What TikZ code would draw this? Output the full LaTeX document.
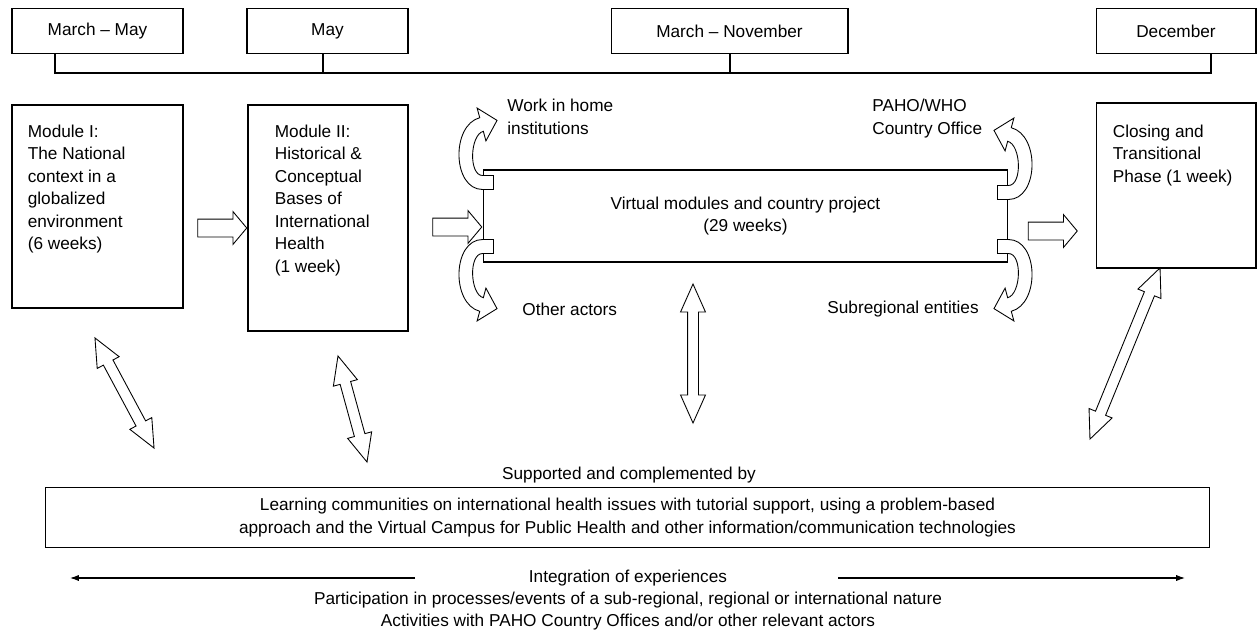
\documentclass[tikz,border=0pt]{standalone}
\usepackage{fontspec}
\setmainfont{Liberation Sans}
\usetikzlibrary{positioning,shapes.arrows,arrows.meta}

\tikzset{
  datebox/.style={draw, line width=0.6pt, minimum height=0.9cm, inner sep=0pt},
  modbox/.style={draw, line width=0.6pt, inner sep=0pt},
  modtext/.style={anchor=north west, align=left, inner sep=0pt},
  blockarrow/.style={single arrow, draw, line width=0.5pt, fill=white,
    inner xsep=0pt, inner ysep=0.17cm, single arrow head extend=0.15cm,
    single arrow tip angle=100, minimum height=0.98cm},
  dblarrow/.style={double arrow, draw, line width=0.5pt, fill=white,
    inner xsep=0pt, inner ysep=0.1cm, double arrow head extend=0.14cm,
    double arrow tip angle=48},
  pics/bendarrow/.style={code={
    \draw[line width=0.5pt, fill=white] (11,7) -- (0,7)
      .. controls (-30,7) and (-31.8,-57) .. (-2.8,-64.8) -- (-5.4,-74.4)
      -- (14.5,-62.1) -- (3.4,-41.6) -- (0.8,-51.2)
      .. controls (-12.7,-47.6) and (-14,-7) .. (0,-7) -- (11,-7) -- cycle;
  }}
}

\begin{document}
\begin{tikzpicture}[x=0.02cm, y=-0.02cm,
    every node/.style={font=\fontsize{9.8pt}{12.8pt}\selectfont}]
  \useasboundingbox (0,0) rectangle (1257,639);

  % time line
  \node[datebox, minimum width=3.42cm] (d1) at (97.5,31) {March – May};
  \node[datebox, minimum width=3.22cm] (d2) at (327.5,31) {May};
  \node[datebox, minimum width=4.74cm] (d3) at (729.5,31) {March – November};
  \node[datebox, minimum width=3.2cm] (d4) at (1176,31) {December};
  \coordinate (t1) at (55,73);
  \coordinate (t2) at (323,73);
  \coordinate (t3) at (730,73);
  \coordinate (t4) at (1211,73);
  \draw[line width=0.6pt] (d1.south -| t1) -- (t1) -- (t4) -- (d4.south -| t4);
  \draw[line width=0.6pt] (d2.south -| t2) -- (t2);
  \draw[line width=0.6pt] (d3.south -| t3) -- (t3);

  % modules
  \node[modbox, minimum width=3.42cm, minimum height=4.06cm] (m1) at (97.5,206.5) {};
  \node[modtext] (m1t) at ([shift={(16,20)}]m1.north west)
    {Module I:\\The National\\context in a\\globalized\\environment\\(6 weeks)};
  \node[modbox, minimum width=3.2cm, minimum height=4.52cm] (m2) at (328,218) {};
  \node[modtext] (m2t) at ([shift={(27,20)}]m2.north west)
    {Module II:\\Historical \&\\Conceptual\\Bases of\\International\\Health\\(1 week)};
  \node[modbox, align=center, minimum width=10.5cm, minimum height=1.84cm] (virt)
    at (745.5,216) {Virtual modules and country project\\(29 weeks)};
  \node[modbox, minimum width=3.2cm, minimum height=3.3cm] (clos) at (1176,185.5) {};
  \node[modtext] (clost) at ([shift={(17,22)}]clos.north west)
    {Closing and\\Transitional\\Phase (1 week)};

  % block arrows
  \node[blockarrow] (b1) at (218.5,228) {};
  \node[blockarrow] (b2) at (453.5,227) {};
  \node[blockarrow] (b3) at (1049,231) {};

  % bent arrows round the virtual modules
  \pic at ([shift={(0,13)}]virt.north west) {bendarrow};
  \pic[yscale=-1] at ([shift={(0,-16)}]virt.south west) {bendarrow};
  \pic[xscale=-1] at ([shift={(0,23)}]virt.north east) {bendarrow};
  \pic[xscale=-1, yscale=-1] at ([shift={(0,-16)}]virt.south east) {bendarrow};
  \node[modtext] (home) at (507,99) {Work in home\\institutions};
  \node[anchor=west, inner sep=0pt] (other) at (522,309) {Other actors};
  \node[modtext] (paho) at (872,99) {PAHO/WHO\\Country Office};
  \node[anchor=east, inner sep=0pt] (subr) at (979,309) {Subregional entities};

  % support
  \coordinate (a1s) at (95,338);   \coordinate (a1e) at (154,448);
  \coordinate (a2s) at (338,356);  \coordinate (a2e) at (367,462);
  \coordinate (a3s) at (693,284);  \coordinate (a3e) at (693,423);
  \coordinate (a4s) at (1160,268); \coordinate (a4e) at (1090,439);
  \path (a1s) -- node[dblarrow, sloped, minimum height=2.5cm] (a1) {} (a1e);
  \path (a2s) -- node[dblarrow, sloped, minimum height=2.2cm] (a2) {} (a2e);
  \path (a3s) -- node[dblarrow, sloped, minimum height=2.78cm] (a3) {} (a3e);
  \path (a4s) -- node[dblarrow, sloped, minimum height=3.7cm] (a4) {} (a4e);
  \node (supp) at (629,475) {Supported and complemented by};
  \node[modbox, align=center, minimum width=23.3cm, minimum height=1.2cm] (learn)
    at (627.5,517.5) {Learning communities on international health issues with tutorial support, using a problem-based\\approach and the Virtual Campus for Public Health and other information/communication technologies};

  % integration
  \node (integ) at (628,578) {Integration of experiences};
  \node (part) at (628,600) {Participation in processes/events of a sub-regional, regional or international nature};
  \node (act) at (628,622) {Activities with PAHO Country Offices and/or other relevant actors};
  \coordinate (l1) at (415,578); \coordinate (l0) at (70,578);
  \coordinate (r1) at (838,578); \coordinate (r0) at (1185,578);
  \draw[line width=0.6pt, -{Latex[length=5pt, width=3.5pt]}] (l1) -- (l0);
  \draw[line width=0.6pt, -{Latex[length=5pt, width=3.5pt]}] (r1) -- (r0);
\end{tikzpicture}
\end{document}
